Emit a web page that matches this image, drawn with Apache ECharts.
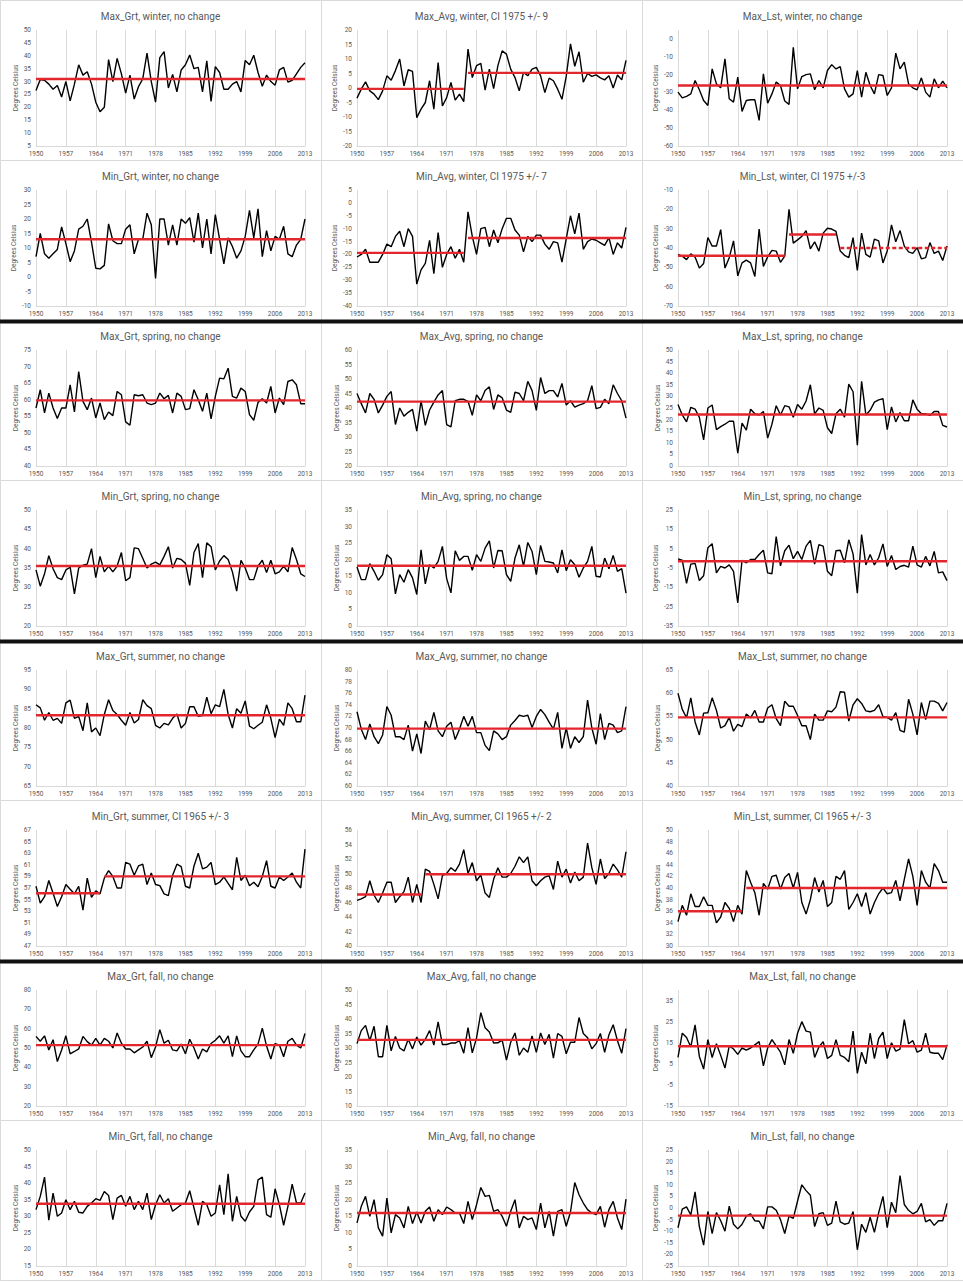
<!DOCTYPE html>
<html><head><meta charset="utf-8">
<script src="https://cdn.jsdelivr.net/npm/echarts@6/dist/echarts.min.js"></script>
<style>html,body{margin:0;padding:0;background:#fff}#c{width:963px;height:1283px}</style>
</head><body><div id="c"></div>
<script>
const years = [];
for (let y = 1950; y <= 2013; y++) years.push(String(y));

const titles = [
  'Max_Grt, winter, no change','Max_Avg, winter, CI 1975 +/- 9','Max_Lst, winter, no change',
  'Min_Grt, winter, no change','Min_Avg, winter, CI 1975 +/- 7','Min_Lst, winter, CI 1975 +/-3',
  'Max_Grt, spring, no change','Max_Avg, spring, no change','Max_Lst, spring, no change',
  'Min_Grt, spring, no change','Min_Avg, spring, no change','Min_Lst, spring, no change',
  'Max_Grt, summer, no change','Max_Avg, summer, no change','Max_Lst, summer, no change',
  'Min_Grt, summer, CI 1965 +/- 3','Min_Avg, summer, CI 1965 +/- 2','Min_Lst, summer, CI 1965 +/- 3',
  'Max_Grt, fall, no change','Max_Avg, fall, no change','Max_Lst, fall, no change',
  'Min_Grt, fall, no change','Min_Avg, fall, no change','Min_Lst, fall, no change'
];
const yMins  = [5,-20,-60,-10,-40,-70, 40,20,0,20,0,-35, 65,60,40,47,40,30, 20,10,-15,15,0,-25];
const yMaxs  = [50,20,5,30,5,-10, 75,60,50,50,35,25, 95,80,65,67,56,50, 80,50,40,50,35,25];
const ySteps = [5,5,10,5,5,10, 5,5,5,5,5,10, 5,2,5,2,2,2, 10,5,10,5,5,5];

const maxGrtWinter = [26.5,30.8,30.5,29,27,28.5,24,30,22.5,29,36.5,32.5,33.8,29,22,18.3,20,38.5,30,39,33,25.5,32.5,23.2,28,31,41,30,22,39.3,41.6,27.5,32.8,26,34.5,36.5,40.3,35,35.5,26,38,22.3,35.8,33.5,27,27,29,30,26,38.2,36.5,40.2,33.5,28.2,32.5,30,28.6,34.5,35.5,29.8,30.5,33,35.5,37.3];
const maxAvgWinter = [-3.5,-0.4,2.1,-1,-2.1,-4,-1,4.2,2.7,6,10,0.7,6.3,5.7,-10.2,-7.3,-5,2.5,-7.3,8.8,-6.2,-3.3,1.9,-4.2,-2.1,-4.7,13.4,3.6,7.7,8.5,-0.7,6.5,-0.2,7.7,12.8,11.7,6.5,3.6,-1,5.4,4.2,6.5,7.1,4.2,-1.6,3.4,2.5,-0.4,-3.9,4,15.2,7.5,12.5,2,5,4,4.5,3.5,2.8,4.2,0,4.5,2.8,9.5];
const maxLstWinter = [-29.8,-33,-32.2,-30.8,-23.3,-28.5,-34.5,-37.3,-16.8,-25.2,-27.4,-11.2,-33.5,-35.4,-21.4,-40.6,-34.5,-34.1,-34.1,-45.7,-19.6,-36,-30.8,-24.2,-26.1,-34.8,-36.7,-4.7,-28,-21.1,-20,-19.6,-28.5,-23.3,-27.4,-17.7,-14.4,-16.8,-15.5,-28,-32.6,-30.8,-17.7,-32.6,-18.7,-26.1,-30.8,-20,-20.5,-31.7,-27.4,-8,-16.8,-13,-25.2,-27.4,-28.5,-21.8,-29.8,-32.6,-22.4,-27.4,-23.7,-27.4];
const minGrtWinter = [7,15,8,6.5,8,9.5,17.3,11.5,5.3,9,16.5,17.5,20,12,3,2.8,4,18.3,12.5,11.5,11.5,16.5,18,8,13,13,22,18,-0.5,20,20,11,18,11,20,18.5,20.5,12,22,10,20,8,21.5,13,4.5,13.5,10.5,6.5,9,14,23,13.5,23.5,7,16,9,14,13,17.5,8,7,11,13,20];
const minAvgWinter = [-21,-20,-18,-23,-23,-23,-20,-16,-17,-13,-11,-17,-10,-13,-31.5,-26,-23.5,-14.5,-27.5,-11.5,-25,-20,-17,-21.5,-18,-23,-3.5,-13,-20,-10,-9.5,-17,-10.5,-15.5,-10,-6,-6,-10.5,-12.5,-19,-13,-15,-12.5,-12.5,-16,-18,-15,-15.5,-23,-14,-5,-12,-4,-18,-15,-14,-14.5,-15.5,-16.5,-13.5,-20,-15.5,-17.5,-9.5];
const minLstWinter = [-43.3,-44.2,-46,-43,-44.7,-50.4,-48,-34.6,-39,-39,-30.5,-50.4,-45,-36.3,-54.4,-47.7,-46.3,-47.7,-54.7,-30.2,-49.5,-44.6,-41.2,-41.6,-47.4,-44.2,-20,-37.5,-35.8,-34,-31,-40.4,-36.8,-41.6,-32.3,-29.8,-30.2,-31.4,-41.6,-43.8,-45,-34.6,-51.6,-32.3,-43.3,-44.7,-35.4,-36.3,-47.7,-41.6,-28,-36.8,-31,-39,-42,-42.8,-39.8,-45.6,-45,-37.2,-42.8,-41.6,-46.5,-39];
const maxGrtSpring = [57.5,63,56,62,57.5,54.3,57.5,57.5,64.5,56.3,68.5,59.5,57,60.5,54.5,59,54,56.3,55.2,62.5,61.5,53.3,52.3,61.5,61.2,61.5,59,58.5,59,62,60.3,61.3,56,62,61,57,57.3,63,60,56.5,62,54.2,61,66.5,66.3,69.5,61,60.5,63.5,62.5,55.5,53.8,59.2,60.3,59,64,56,60.5,58.5,65.5,66,64.5,58.8,58.8];
const maxAvgSpring = [45,41.5,38.3,45,43,38.3,41,44,45.7,34.3,40,37.2,38.5,39.5,32,42.5,34,39.3,42,44.5,46,34.3,33.5,42.5,43,43,42.3,37.5,44.5,42.5,46,47.3,39.5,44.5,43.5,39.3,38.5,45.5,45,42.5,49.2,46,39.2,50.5,45,46,46,43.8,48.5,41,42.5,40.3,41,41.5,42.5,47.7,39.8,40.2,43,41.5,48,45,42.5,36.5];
const maxLstSpring = [26.5,22,19,25.3,24.5,21,11.3,25,26.3,15.7,17,18,19.3,19.3,5.5,18.5,15.5,24.5,22.5,22,23.5,12,18,26,22,26,25.5,21,26.5,24.5,28,35,22.5,25,24,16.5,14,22.5,24.5,21,35.3,32,9,36.5,22,24,27.5,28.5,29,15.7,25.5,19,23,19.5,19.5,28.5,24.5,22.5,22.5,21.8,23.5,23.5,17.5,16.8];
const minGrtSpring = [34.5,30.3,33.5,38.2,34.8,32.5,32,34.5,35.2,28.3,35,35.7,36,40,32.5,38,34,35.5,34,35.5,39,31.7,32.5,40.2,40,37.5,35,36,36.5,35.8,38,40.5,35,37.5,37.2,36.2,30.5,39,41.3,32.5,41.5,40.5,34.5,36.8,38.2,37.2,34,29,37,35,32,32,35.5,37,33.8,37,33.5,34,35.5,34,40.3,37.2,33.5,32.8];
const minAvgSpring = [17.8,14,14,18.8,16.5,13.8,15.5,21.5,20.3,9.7,15.5,13.2,17,14.5,9.5,23,12.7,18.5,17.5,19.5,24,14.3,10,22.7,19.8,21,21,16.8,21.5,19.5,23.5,25.7,17.5,22.8,22.7,15.5,13.5,20.5,24.5,18,25.2,22.5,15.5,24.3,19.5,19.3,19,16,23,16.7,20,18.5,14.7,17.5,19.5,24,15,14.8,20.5,17.3,21.3,16.5,17.3,9.9];
const minLstSpring = [-0.3,-1,-13,-3,-2.6,-11.5,-9,5.5,7.6,-7.5,-4.2,-5,-3.4,-6.7,-23,-1,-2.3,-0.6,-0.6,2,4.2,-7.5,-8,11.2,-3.9,3.9,6.8,-0.2,3.6,-0.6,6.3,9.3,-3,7.1,6.3,-6.7,-9,3.9,4.2,-2.3,9.6,2.3,-18,12.3,-3.4,2,-3.4,0.3,7.5,-4.2,1.5,-5.8,-4.2,-3.6,-4.5,6.3,-3.4,-4.5,1,-3.9,3.6,-7.5,-7,-11.5];
const maxGrtSummer = [86,85.2,82,84,82,82.5,81.2,86.5,87.2,82.5,83,79.3,86.5,79,80,78,83.5,87.3,84.5,83.5,82,80.7,84,81.3,82.2,87.3,85.8,85,80.7,80,81.2,80.8,82.5,83.6,80,81.2,85.5,85.5,83,83.2,88,83.7,86,85.5,90,83.5,80,85,83.8,87,80.5,79.8,80.7,81.5,86,82.5,77.5,82.3,80.7,86.5,85,81.6,81.6,88.5];
const maxAvgSummer = [72.8,69.8,68,70.7,68.5,67.3,68.8,73.7,72.2,68.5,68.5,68,70.5,66,69,65.6,71.2,69.7,72.7,69.5,68.5,70.3,71,68,69.8,72,70.3,72,69.2,69.2,67,66.1,69.5,69,68,68.5,70.5,71.3,72.2,72,72.2,70.1,72,73.2,72.3,71,69.8,72.7,66.5,70,66.5,68.5,67.5,68.5,74.8,70,67.2,72.5,68,70.8,70.5,69.2,69.5,73.7];
const maxLstSummer = [60,56.5,54.7,59,53.8,51,55.7,55.8,59,56.3,52.5,53,54.8,51.8,53.3,52.8,55.5,54.7,56.3,53.8,53.8,56.8,57.5,54.5,53,58.3,57.2,57.2,55.2,53,53,50,55.5,54.2,54.2,56.2,56,57,60.3,60.2,54,57.5,58.8,57.8,56.2,56,56.3,57.5,55,54.8,54.2,55.8,52,51.6,58.7,55.5,51,58,54.3,58.3,58.3,57.8,56.2,58];
const minGrtSummer = [57.3,54.4,55.5,58.3,56.1,53.8,55.5,57.6,56.8,56,57.3,53.2,58.7,55.4,56.5,56,58.7,60,59,57,57,61.4,61.1,59.2,60.8,61.1,57.6,59.6,57.6,57.4,56,55.7,59.2,61.1,60.7,57.3,57,60.8,63,60.3,60.6,61.4,57.6,58,58.9,57.8,56.7,62.3,58.3,59.2,57.4,58,57.2,59,61.7,57.3,57,58.9,58.3,58.9,59.6,58,57,63.7];
const minAvgSummer = [46.3,46.5,46.8,49,47,46,47.3,48.8,48.8,46,46.8,47.5,49.5,46,48.5,46,50.6,50.3,48.5,46.5,49.7,50,50.8,50.3,51.3,53.3,50,51.5,49,49.8,47.3,46.7,49.2,50.8,49.5,49.5,50,51,52.3,51.5,52.3,49,48.3,49,49.5,49.7,47.8,51.7,49.5,50.6,48.7,50.2,49,49.5,54.2,50.8,48.5,52,49.3,50,51.3,50.5,49.5,53];
const minLstSummer = [34.2,37,35.3,39,36.8,36.8,38.5,37,37,34,35,37.5,36.5,34.2,37,35.5,43,41,39.2,35.3,40.8,39.8,42,42.2,39.8,41.8,42.5,40,42.7,37.5,35.5,38,41.8,39.3,41.3,36.8,37.5,42,41.5,43,36.3,37.5,39,36.8,39.2,35.5,37.5,39,40,39,39.2,41.3,37.8,41.5,45,42,37,43,41,40,44.2,43,41,41];
const maxGrtFall = [56,53.5,56.3,49,54.3,43,49,56.3,47,48.2,49.5,56,53.3,51.5,55,51.5,55,53.5,50,57.8,52.5,49.5,49.5,47.5,49,50.5,53.5,45,50.5,59.5,52.5,54,49,48.5,52,47,54.5,50,44.3,49.5,48,52.3,54,56.3,52.5,56.3,45.5,56.3,48.5,45.5,45.5,49,52,60.3,51,44.3,52.3,51.5,45.5,53.5,55,51.5,50,57.5];
const maxAvgFall = [31.5,36,37.8,32.5,37.5,27,27,37.8,29,34,30,29,33,29.7,33.8,31,33,36,31,39,31.2,31.2,31.7,31.7,32.5,28.2,37,28.3,33.5,42.2,37,35.5,31.7,31.8,32.7,25.8,32,35.2,27.5,30,28.5,34.2,28.5,35.2,31.2,34.7,26.5,35,34,28,32,32,40.5,35,33.5,29.7,31.5,35,28.5,34.5,38,32.5,28.2,36.7];
const maxLstFall = [8,19.5,17.5,13,23.5,8.5,2.5,16.5,8,14.5,9,3,13.5,12,9.5,12.5,11.5,12.5,14,15.5,4,12.5,16.5,13.5,10.5,4.5,16.5,10,19.5,25,20.5,20,8,13,15.5,7.5,9,16.5,9,8,6,20.5,0.5,10.5,5,19.5,7.5,17,20,7.5,15,11,12,26,14.5,16,10.5,11.5,19.5,10.5,10,10,7,14];
const minGrtFall = [32,36,41.8,28.8,37,30,31,35,32,34.5,31.2,31,33,34,35.3,34.8,37.5,36.3,29,35.5,36.3,33,36,32,34.5,32,37,29,33.5,36.5,34,35.3,31.5,32.5,33.5,34,37.7,32.5,27.3,34.5,33.5,30,31,39.5,30.5,42.8,28.5,36,30,28.5,31.3,33,41,41.8,30.5,29.7,38.3,33.5,27.3,33,39.7,34,34,37];
const minAvgFall = [13,18,21,15,20,11.5,9,20.5,10,15.5,14.5,11.5,18,12.8,16.3,13,16.5,17.8,13.5,17,15.5,17.8,17,16,16,12.8,19.5,14,18.5,23.7,21,21.3,16.5,17,15,12,16.5,20,11.5,15,14,14.5,11,19,11.5,16.5,9,16.5,17,12,16.3,25.2,21.5,19,17,16,15.5,18,11.7,17,19.5,14.5,11,20.2];
const minLstFall = [-8.5,-0.5,0.5,-3,7,-8,-16,-1.5,-11,-2,-5.5,-10,0.8,-7,-9,-7,-3.5,-2.5,-5.5,-5.7,-9,0.5,0.5,-1,-5,-11,-3.5,-4.5,3,10,7.5,5.5,-8,-2.5,-2,-7.5,-6.5,3,-6,-7,-6.5,-1.5,-18,-7,-10.5,-4,-10.5,-2,5,-8.5,2.5,-2,14,1.5,-1,-2.5,-1.5,2,-6,-5,-7.5,-5.5,-5.5,2];

// mean segments: [startYear, endYear, value, dashed]
const meanMaxGrtWinter = [[1950,2013,31]];
const meanMaxAvgWinter = [[1950,1975,-0.3],[1976,2013,5.2]];
const meanMaxLstWinter = [[1950,2013,-26.1]];
const meanMinGrtWinter = [[1950,2013,13]];
const meanMinAvgWinter = [[1950,1975,-19.4],[1976,2013,-13.6]];
const meanMinLstWinter = [[1950,1975,-44],[1976,1987,-33],[1988,2013,-40,1]];
const meanMaxGrtSpring = [[1950,2013,59.8]];
const meanMaxAvgSpring = [[1950,2013,42.2]];
const meanMaxLstSpring = [[1950,2013,22.2]];
const meanMinGrtSpring = [[1950,2013,35.5]];
const meanMinAvgSpring = [[1950,2013,18.2]];
const meanMinLstSpring = [[1950,2013,-1.5]];
const meanMaxGrtSummer = [[1950,2013,83.3]];
const meanMaxAvgSummer = [[1950,2013,69.9]];
const meanMaxLstSummer = [[1950,2013,54.8]];
const meanMinGrtSummer = [[1950,1965,56.1],[1966,2013,59]];
const meanMinAvgSummer = [[1950,1965,47.1],[1966,2013,49.9]];
const meanMinLstSummer = [[1950,1965,36],[1966,2013,40]];
const meanMaxGrtFall = [[1950,2013,51.5]];
const meanMaxAvgFall = [[1950,2013,32.8]];
const meanMaxLstFall = [[1950,2013,13.3]];
const meanMinGrtFall = [[1950,2013,33.8]];
const meanMinAvgFall = [[1950,2013,16]];
const meanMinLstFall = [[1950,2013,-3.3]];

const seriesData = [maxGrtWinter,maxAvgWinter,maxLstWinter,minGrtWinter,minAvgWinter,minLstWinter,
  maxGrtSpring,maxAvgSpring,maxLstSpring,minGrtSpring,minAvgSpring,minLstSpring,
  maxGrtSummer,maxAvgSummer,maxLstSummer,minGrtSummer,minAvgSummer,minLstSummer,
  maxGrtFall,maxAvgFall,maxLstFall,minGrtFall,minAvgFall,minLstFall];
const meanData = [meanMaxGrtWinter,meanMaxAvgWinter,meanMaxLstWinter,meanMinGrtWinter,meanMinAvgWinter,meanMinLstWinter,
  meanMaxGrtSpring,meanMaxAvgSpring,meanMaxLstSpring,meanMinGrtSpring,meanMinAvgSpring,meanMinLstSpring,
  meanMaxGrtSummer,meanMaxAvgSummer,meanMaxLstSummer,meanMinGrtSummer,meanMinAvgSummer,meanMinLstSummer,
  meanMaxGrtFall,meanMaxAvgFall,meanMaxLstFall,meanMinGrtFall,meanMinAvgFall,meanMinLstFall];

const FONT = 'Roboto, "Liberation Sans", sans-serif';
const TXT = '#595959';
const colX = [0, 321, 642];
const PW = 321, PH = 160;

const option = {animation:false, grid:[], xAxis:[], yAxis:[], series:[], graphic:[]};

for (let p = 0; p < 24; p++) {
  const row = Math.floor(p / 3), col = p % 3;
  const px = colX[col], py = row * PH;
  option.graphic.push({type:'rect', shape:{x:px+0.5, y:py+0.5, width:PW, height:PH}, style:{fill:'none', stroke:'#d9d9d9', lineWidth:1}, silent:true});
  option.graphic.push({type:'text', x:px+PW/2, y:py+16, style:{text:titles[p], textAlign:'center', textVerticalAlign:'middle', fontSize:10, fontFamily:FONT, fill:TXT}, silent:true});
  option.grid.push({left:px+36, top:py+30, width:269, height:116});
  const offStep = ((yMaxs[p] - yMins[p]) % ySteps[p]) !== 0;
  option.xAxis.push({type:'category', gridIndex:p, data:years, boundaryGap:false,
    axisLine:{show:true, onZero:false, lineStyle:{color:'#d9d9d9', width:1}}, axisTick:{show:false},
    axisLabel:{interval:6, fontSize:6.5, color:TXT, fontFamily:FONT, margin:4},
    splitLine:{show:true, interval:6, lineStyle:{color:'#d9d9d9', width:1}}});
  option.yAxis.push({type:'value', gridIndex:p, min:yMins[p], max:yMaxs[p], interval:ySteps[p],
    name:'Degrees Celsius', nameLocation:'middle', nameGap:17,
    nameTextStyle:{fontSize:6.5, color:TXT, fontFamily:FONT},
    axisLine:{show:false}, axisTick:{show:false}, splitLine:{show:false},
    axisLabel:{fontSize:6.5, color:TXT, fontFamily:FONT, margin:5, showMaxLabel: offStep ? false : true}});
  option.series.push({type:'line', xAxisIndex:p, yAxisIndex:p, data:seriesData[p], showSymbol:false, symbol:'none',
    lineStyle:{color:'#000', width:1.4}, z:2, silent:true});
  meanData[p].forEach(seg => {
    const arr = years.map(y => { const yr = +y; return (yr >= seg[0] && yr <= seg[1]) ? seg[2] : null; });
    option.series.push({type:'line', xAxisIndex:p, yAxisIndex:p, data:arr, showSymbol:false, symbol:'none', connectNulls:false,
      lineStyle:{color:'#e3262b', width:2.4, type: seg[3] ? [4,2.5] : 'solid'}, z:3, silent:true});
  });
}
[319.5, 639.5, 959.5].forEach(y => {
  option.graphic.push({type:'rect', shape:{x:0, y:y, width:963, height:4}, style:{fill:'#111'}, silent:true, z:10});
});

const chart = echarts.init(document.getElementById('c'), null, {renderer:'svg', width:963, height:1283});
chart.setOption(option);
</script>
</body></html>
